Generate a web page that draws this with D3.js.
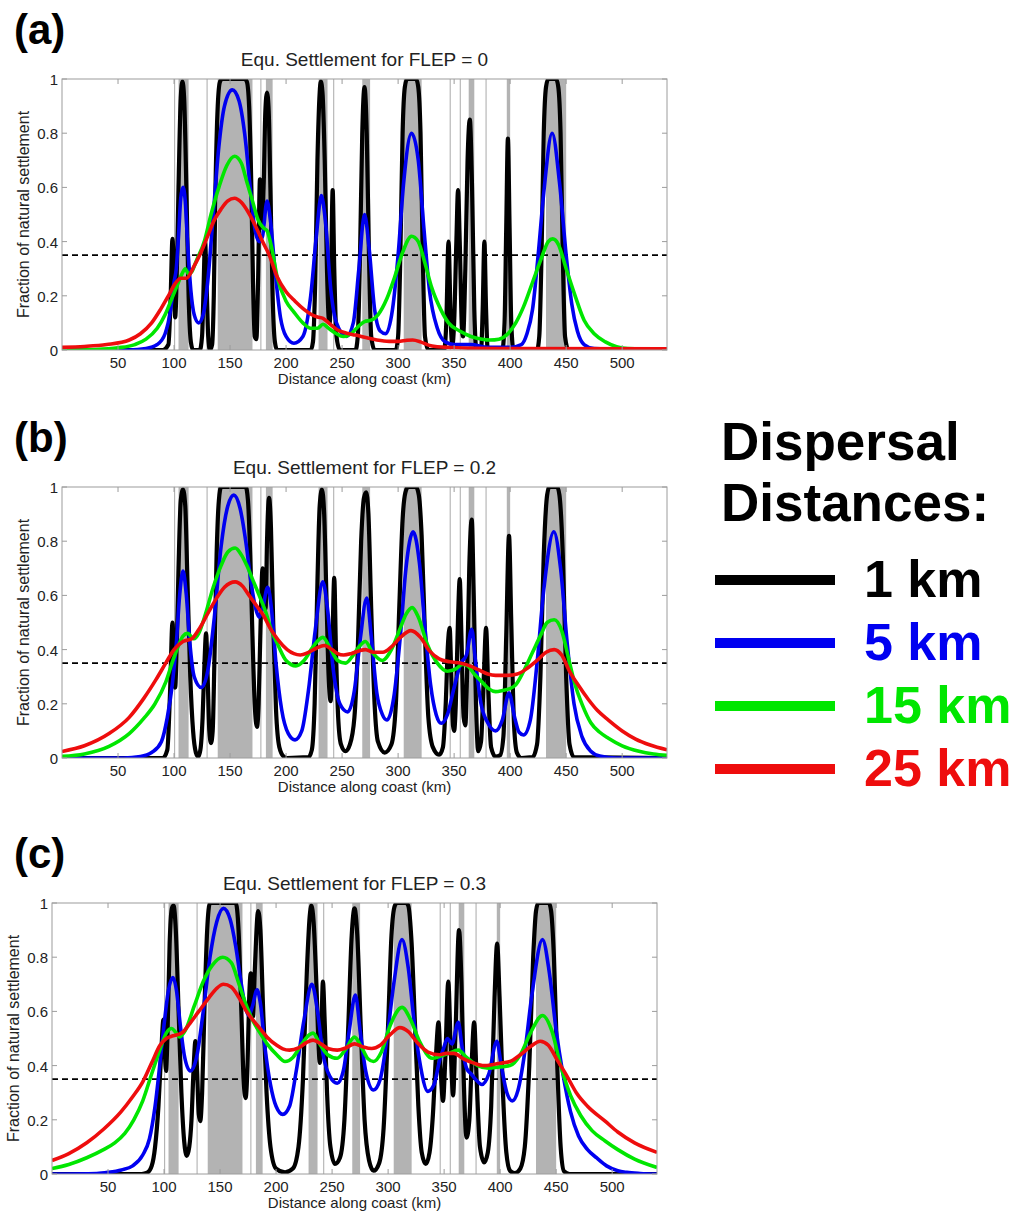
<!DOCTYPE html>
<html>
<head>
<meta charset="utf-8">
<script src="https://cdn.jsdelivr.net/npm/d3@7"></script>
<style>
  body { margin: 0; background: #fff; }
  svg { display: block; font-family: "Liberation Sans", Arial, Helvetica, sans-serif; }
  .box { fill: none; stroke: #9c9c9c; stroke-width: 1; }
  .tick-line { stroke: #9c9c9c; stroke-width: 1; }
  .tick-label { font-size: 15px; fill: #222; }
</style>
</head>
<body>
<svg id="chart" width="1018" height="1213"></svg>
<script>
// Reserves along the coast, [start km, end km]
var reserves = [[100,101],[104,113],[129,130],[139,170],[177,178],[182,188],[229,237],[242,243],
                [268,275],[305,321],[346,347],[355,356],[363,368],[378,379],[397,400],[432,450]];

var xTicks = [50,100,150,200,250,300,350,400,450,500];
var yTicks = [0,0.2,0.4,0.6,0.8,1];
var threshold = 0.35;

var distances = ["1 km","5 km","15 km","25 km"];
var colors = ["#000000","#0000f0","#00e600","#ee0d0d"];
var panelLetters = ["(a)","(b)","(c)"];
var panelTitles = ["Equ. Settlement for FLEP = 0","Equ. Settlement for FLEP = 0.2","Equ. Settlement for FLEP = 0.3"];

// Panel (a) FLEP = 0
var a1 = [[0,0],[90,0],[95,0.02],[97,0.2],[98.6,0.41],[100,0.25],[101,0.12],[102,0.2],[104,0.6],[106,0.93],[107.5,0.99],[109,0.93],[111,0.6],[113,0.2],[115,0.03],[117,0],[123,0],[125,0.05],[126.5,0.25],[127.6,0.40],[129,0.25],[130.5,0.05],[132,0],[134,0.02],[135.5,0.2],[137,0.6],[139,0.9],[141,0.99],[143,1],[163,1],[165,0.99],[167,0.9],[169,0.6],[170.5,0.25],[172,0.05],[173.5,0.04],[175,0.25],[176.7,0.63],[178,0.5],[179,0.45],[180,0.6],[181.5,0.88],[183,0.95],[184.5,0.88],[186,0.6],[188,0.2],[190,0.03],[192,0],[222,0],[224,0.03],[226,0.25],[228,0.7],[230,0.95],[231,0.99],[232.5,0.95],[234.5,0.7],[236.5,0.3],[238,0.12],[239,0.1],[240,0.25],[241.6,0.59],[243,0.3],[245,0.05],[248,0],[262,0],[264,0.05],[266,0.35],[268,0.8],[270,0.97],[272,0.8],[274,0.35],[276,0.05],[279,0],[298,0],[300,0.05],[302,0.35],[304,0.8],[306,0.97],[308,1],[316,1],[318,0.97],[320,0.8],[322,0.35],[324,0.05],[327,0],[341,0],[343,0.1],[345,0.40],[347,0.1],[348.5,0.02],[350,0.1],[352,0.4],[353.5,0.59],[355,0.4],[357,0.08],[358,0.05],[360,0.3],[362,0.7],[364,0.85],[366,0.6],[368,0.15],[370,0],[374,0],[375.5,0.15],[377,0.40],[378.5,0.15],[380,0],[393,0],[395,0.1],[396.5,0.45],[398,0.78],[399.5,0.45],[401,0.1],[403,0],[424,0],[426,0.05],[428,0.35],[430,0.8],[432,0.97],[434,1],[441,1],[443,0.97],[445,0.8],[447,0.35],[449,0.05],[452,0],[540,0]];
var a5 = [[0,0],[60,0],[75,0.005],[85,0.02],[92,0.06],[97,0.15],[100,0.25],[102,0.3],[104,0.42],[106,0.56],[108,0.60],[110,0.55],[112,0.4],[115,0.22],[118,0.13],[122,0.1],[126,0.13],[130,0.25],[135,0.5],[140,0.75],[145,0.9],[152,0.96],[158,0.92],[163,0.8],[168,0.6],[172,0.45],[176,0.4],[179,0.42],[183,0.55],[186,0.48],[190,0.3],[195,0.12],[200,0.05],[207,0.025],[215,0.05],[222,0.2],[227,0.42],[231.5,0.57],[235,0.48],[240,0.22],[245,0.1],[254,0.05],[260,0.1],[265,0.3],[270,0.5],[274,0.38],[279,0.15],[284,0.07],[289,0.06],[295,0.15],[300,0.35],[305,0.62],[312,0.80],[318,0.7],[323,0.45],[328,0.22],[335,0.08],[342,0.03],[350,0.02],[365,0.02],[380,0.01],[400,0.01],[410,0.02],[415,0.06],[420,0.15],[425,0.35],[430,0.58],[437.5,0.80],[444,0.62],[450,0.35],[455,0.17],[460,0.07],[466,0.02],[475,0.005],[540,0]];
var a15 = [[0,0],[30,0.002],[50,0.008],[65,0.02],[75,0.04],[85,0.08],[92,0.13],[98,0.19],[103,0.24],[107,0.28],[110,0.3],[113,0.28],[116,0.29],[120,0.33],[127,0.4],[133,0.5],[140,0.6],[147,0.68],[154,0.715],[160,0.69],[165,0.62],[170,0.55],[175,0.48],[180,0.45],[183,0.44],[187,0.38],[192,0.27],[200,0.18],[207,0.14],[215,0.1],[222,0.08],[228,0.08],[233,0.095],[238,0.08],[245,0.06],[251,0.05],[258,0.06],[264,0.085],[270,0.105],[276,0.11],[282,0.13],[290,0.19],[297,0.27],[304,0.36],[312,0.42],[318,0.4],[324,0.32],[330,0.23],[338,0.15],[345,0.1],[355,0.07],[365,0.05],[375,0.04],[382,0.037],[390,0.04],[398,0.06],[405,0.1],[412,0.16],[420,0.25],[428,0.34],[434,0.4],[438,0.41],[443,0.39],[450,0.3],[458,0.2],[466,0.11],[475,0.06],[485,0.03],[495,0.012],[505,0.005],[540,0.002]];
var a25 = [[0,0.01],[20,0.013],[40,0.02],[60,0.037],[70,0.06],[80,0.1],[88,0.15],[95,0.2],[101,0.245],[106,0.265],[111,0.265],[118,0.31],[124,0.36],[130,0.42],[136,0.48],[142,0.52],[148,0.55],[154,0.56],[160,0.545],[166,0.51],[173,0.455],[179,0.4],[185,0.35],[192,0.27],[200,0.215],[208,0.18],[216,0.15],[223,0.13],[228,0.122],[233,0.117],[238,0.1],[246,0.074],[254,0.062],[262,0.055],[272,0.045],[281,0.037],[292,0.032],[300,0.032],[308,0.036],[313,0.037],[320,0.03],[327,0.018],[335,0.012],[347,0.009],[370,0.006],[400,0.005],[540,0.004]];

// Panel (b) FLEP = 0.2
var b1 = [[0,0],[90,0],[94,0.03],[96.5,0.25],[98.6,0.50],[100,0.35],[101,0.26],[102,0.35],[104,0.7],[106,0.95],[108,0.99],[110,0.93],[112,0.65],[114.5,0.3],[117,0.1],[119.5,0.02],[121.5,0.005],[123.5,0.03],[125.5,0.15],[127,0.33],[128.6,0.46],[130,0.3],[131.5,0.1],[133,0.055],[134.5,0.1],[136,0.35],[138,0.75],[140,0.95],[142,1],[164,1],[166,0.95],[168,0.75],[170,0.45],[172,0.2],[174,0.115],[175.5,0.2],[177,0.45],[179,0.70],[180.5,0.58],[181.7,0.55],[183,0.8],[184.8,0.96],[186.5,0.85],[188.5,0.5],[191,0.18],[194,0.04],[198,0.005],[201,0],[220,0.003],[223,0.03],[225.5,0.2],[228,0.65],[230,0.93],[232,0.99],[234,0.9],[236,0.6],[238,0.3],[239.8,0.21],[241,0.35],[243,0.665],[244.5,0.4],[246.5,0.15],[249,0.05],[253,0.025],[257,0.05],[261,0.15],[264,0.4],[267,0.8],[269.5,0.96],[271.5,0.98],[273.5,0.9],[276,0.55],[279,0.2],[282,0.06],[288,0.02],[294,0.05],[298,0.2],[301,0.55],[304,0.88],[306.5,0.98],[309,1],[316,1],[318.5,0.97],[321,0.82],[324,0.45],[327,0.15],[331,0.04],[336.6,0.012],[340,0.04],[342.5,0.2],[344.5,0.42],[346,0.48],[347.5,0.3],[349,0.12],[350,0.1],[351.5,0.2],[353.5,0.52],[355,0.66],[356.5,0.45],[358.5,0.15],[360,0.12],[361.5,0.3],[363.5,0.7],[365.7,0.88],[367.5,0.6],[369.5,0.2],[371.5,0.025],[374,0.06],[376.5,0.3],[378.5,0.48],[380.5,0.25],[383,0.04],[387,0.005],[391,0.01],[394,0.08],[396.5,0.45],[399,0.82],[401,0.5],[403.5,0.12],[406,0.02],[410,0],[420,0.003],[424,0.05],[427,0.3],[430,0.75],[433,0.97],[435,1],[442,1],[444,0.97],[447,0.75],[450,0.3],[453,0.05],[457,0.003],[540,0]];
var b5 = [[0,0],[55,0],[70,0.005],[80,0.02],[88.7,0.06],[94,0.15],[98.4,0.27],[102,0.42],[105,0.6],[108,0.69],[111,0.6],[114,0.43],[118,0.3],[124.4,0.26],[130,0.32],[136,0.52],[142,0.78],[148,0.93],[153.4,0.97],[159,0.92],[164,0.8],[169,0.64],[173,0.55],[176,0.52],[179,0.55],[183.6,0.63],[187,0.55],[191,0.35],[196,0.18],[202,0.09],[208,0.067],[214,0.1],[220,0.25],[226,0.47],[232.8,0.65],[237,0.55],[242,0.33],[248,0.2],[255,0.17],[261,0.25],[266,0.43],[272,0.59],[276,0.45],[281,0.24],[286,0.16],[290,0.14],[296,0.22],[302,0.45],[307,0.7],[313.4,0.835],[319,0.72],[324,0.48],[329,0.27],[334,0.16],[338.6,0.128],[344,0.16],[350,0.26],[356,0.35],[361,0.38],[365.7,0.475],[369,0.36],[374,0.2],[380,0.13],[387,0.1],[393,0.14],[399,0.24],[404,0.15],[408,0.095],[412,0.085],[418,0.14],[424,0.35],[430,0.62],[439,0.835],[445,0.7],[451,0.42],[457,0.2],[464,0.08],[472,0.025],[480,0.007],[495,0],[540,0]];
var b15 = [[0,0.006],[20,0.015],[42,0.043],[60,0.09],[73,0.146],[83,0.2],[92.6,0.28],[99,0.36],[104,0.415],[108,0.45],[112,0.46],[117.8,0.44],[122,0.46],[128,0.53],[135,0.63],[142,0.71],[148,0.76],[154.6,0.775],[160,0.75],[165,0.71],[170,0.66],[176,0.6],[181.7,0.54],[187,0.47],[193,0.415],[200,0.36],[208.8,0.34],[216,0.36],[224,0.41],[232.8,0.445],[240,0.4],[246,0.36],[253,0.35],[260,0.38],[265,0.41],[270.8,0.43],[277,0.39],[286,0.36],[294,0.4],[302,0.48],[307,0.53],[312.6,0.555],[318,0.52],[326,0.42],[335,0.35],[344,0.32],[352,0.33],[357,0.345],[362,0.34],[368,0.31],[375,0.28],[381,0.255],[387,0.245],[394,0.25],[399,0.255],[405,0.27],[412,0.32],[420,0.39],[428,0.46],[433,0.5],[439.3,0.51],[446,0.47],[452,0.37],[458,0.27],[464.5,0.195],[472,0.13],[480,0.095],[487.7,0.073],[500,0.045],[515,0.025],[528,0.015],[540,0.01]];
var b25 = [[0,0.024],[20,0.045],[42,0.09],[60,0.15],[73,0.22],[84,0.29],[92.6,0.35],[100,0.4],[108,0.43],[115.8,0.44],[123,0.48],[131,0.54],[138,0.59],[145,0.63],[154.6,0.65],[161,0.635],[167,0.6],[174,0.56],[180,0.525],[185.6,0.48],[193,0.435],[201,0.40],[207,0.385],[212.7,0.38],[220,0.39],[227,0.405],[234,0.415],[241,0.4],[246,0.385],[251.4,0.38],[258,0.385],[265,0.395],[270.8,0.40],[278,0.39],[286.3,0.39],[294,0.41],[302,0.445],[311.5,0.47],[320,0.445],[328,0.395],[336.6,0.366],[346,0.355],[356,0.35],[364,0.34],[372,0.325],[380,0.31],[387,0.305],[397,0.305],[406.4,0.31],[415,0.33],[424,0.36],[432,0.39],[439.3,0.40],[446,0.38],[453,0.32],[460.6,0.27],[470,0.215],[478,0.175],[487.7,0.14],[500,0.1],[512,0.07],[525,0.048],[540,0.03]];

// Panel (c) FLEP = 0.3
var c1 = [[0,0],[80,0],[85,0.005],[89,0.03],[92,0.1],[95,0.25],[97.5,0.45],[99.5,0.57],[100.7,0.45],[101.8,0.38],[103,0.5],[105,0.85],[107,0.98],[108.5,0.99],[110.5,0.9],[113,0.6],[115.5,0.3],[118,0.12],[120.3,0.067],[122.5,0.1],[124.5,0.2],[126.5,0.4],[128,0.49],[129.5,0.38],[131,0.22],[132.3,0.195],[134,0.3],[136,0.6],[138.5,0.9],[141,1],[164,1],[166.5,0.9],[169,0.6],[171,0.35],[172.8,0.28],[174.5,0.4],[176,0.65],[177.4,0.74],[178.5,0.62],[179.4,0.58],[181,0.75],[184,0.97],[186,0.9],[188.5,0.6],[191.5,0.3],[195,0.1],[200,0.02],[208,0.006],[215,0.02],[220,0.1],[224,0.35],[227.5,0.75],[230,0.95],[231.5,0.99],[233.5,0.93],[236,0.7],[238,0.47],[239,0.41],[240.5,0.55],[241.8,0.71],[243.5,0.55],[245.5,0.3],[248.5,0.1],[252.6,0.037],[257,0.06],[261,0.2],[264.5,0.55],[267.5,0.88],[270,0.98],[272.5,0.88],[275.5,0.55],[279,0.2],[283,0.05],[287,0.012],[292,0.04],[296,0.17],[300,0.55],[303,0.88],[306,0.99],[308,1],[316,1],[318,0.99],[321,0.85],[324,0.55],[327,0.25],[330,0.08],[333.6,0.037],[337,0.08],[340,0.22],[342.5,0.42],[345,0.56],[347,0.38],[349,0.27],[351,0.42],[353.7,0.71],[356,0.45],[358,0.29],[360,0.5],[363.3,0.90],[365.5,0.7],[367.5,0.35],[370,0.134],[372.5,0.2],[374.5,0.4],[376.8,0.56],[379,0.35],[382,0.1],[385.7,0.043],[389,0.08],[392,0.25],[395,0.65],[397.3,0.85],[399.5,0.65],[402.5,0.3],[405.5,0.08],[408.8,0.012],[413,0.003],[418,0.02],[422,0.1],[426,0.4],[429.5,0.8],[432,0.97],[434,1],[443.5,1],[445.5,0.97],[448,0.8],[451,0.4],[454,0.1],[457,0.01],[462,0],[540,0]];
var c5 = [[0,0],[40,0.002],[50,0.006],[62,0.015],[72,0.03],[81,0.07],[87,0.13],[92,0.25],[96.4,0.41],[100,0.55],[104,0.68],[108,0.725],[111,0.68],[114.5,0.55],[118,0.44],[123.4,0.38],[129,0.43],[135,0.6],[141,0.8],[147,0.93],[153,0.98],[159,0.94],[164,0.84],[169,0.7],[173,0.61],[175.5,0.585],[179,0.62],[183,0.68],[186,0.63],[190,0.47],[195,0.33],[200,0.25],[206,0.22],[212,0.25],[218,0.38],[225,0.57],[232,0.70],[237,0.6],[242,0.44],[248,0.36],[254.6,0.335],[260,0.38],[265,0.52],[270.8,0.66],[275,0.53],[280,0.38],[287,0.31],[293,0.35],[299,0.5],[305,0.7],[312.4,0.865],[318,0.76],[323,0.57],[328,0.42],[335.6,0.305],[341,0.33],[346,0.42],[350,0.47],[353,0.5],[357,0.48],[362.6,0.56],[366,0.47],[370,0.39],[374,0.37],[378,0.35],[383.8,0.33],[390,0.37],[397,0.49],[401,0.4],[406,0.3],[410.8,0.27],[416,0.31],[422,0.45],[428,0.65],[437.8,0.865],[444,0.74],[450,0.53],[456,0.37],[462.8,0.23],[470,0.14],[478,0.09],[486,0.06],[495,0.03],[505,0.012],[513,0.006],[525,0.002],[540,0]];
var c15 = [[0,0.02],[15,0.035],[31,0.06],[46,0.09],[56,0.115],[65,0.15],[73,0.2],[81,0.27],[89,0.37],[96.4,0.46],[102,0.52],[106.8,0.537],[110,0.525],[113.8,0.506],[119,0.53],[127,0.62],[135,0.71],[143,0.77],[152.4,0.80],[160,0.78],[167,0.7],[173.6,0.62],[180,0.56],[185,0.525],[192,0.48],[200.6,0.44],[208,0.415],[215,0.43],[223,0.48],[230,0.515],[233,0.52],[239,0.48],[246,0.44],[254.6,0.427],[262,0.46],[270,0.505],[276,0.47],[282,0.425],[287,0.415],[294,0.45],[302,0.55],[312.4,0.615],[320,0.57],[328,0.49],[339.4,0.427],[347,0.435],[354,0.445],[362.6,0.457],[370,0.43],[380,0.4],[389.6,0.39],[399,0.395],[408.8,0.40],[418,0.44],[427,0.52],[437.8,0.585],[446,0.53],[454,0.4],[462.8,0.29],[472,0.215],[482,0.16],[493.7,0.122],[505,0.09],[520,0.055],[540,0.024]];
var c25 = [[0,0.05],[15,0.075],[31,0.115],[46,0.165],[61.7,0.23],[72,0.285],[81,0.34],[89,0.41],[96.4,0.475],[102,0.5],[108,0.51],[115.7,0.52],[123,0.555],[131,0.6],[140,0.65],[147,0.685],[153,0.70],[160,0.69],[167,0.65],[173.6,0.60],[180,0.565],[185,0.54],[192,0.505],[200.6,0.475],[206,0.462],[212,0.457],[220,0.465],[227,0.485],[233,0.494],[240,0.48],[247,0.462],[254.6,0.457],[262,0.465],[270,0.48],[277,0.47],[285.4,0.463],[293,0.475],[302,0.515],[310.5,0.54],[318,0.525],[326,0.485],[335.6,0.45],[346,0.44],[352,0.445],[358.7,0.445],[366.4,0.427],[376,0.41],[385.7,0.40],[395,0.405],[402,0.41],[408.8,0.415],[418,0.44],[427,0.47],[435.8,0.49],[443,0.475],[451,0.42],[459,0.366],[468,0.3],[478,0.25],[493.7,0.195],[505,0.155],[520,0.115],[540,0.08]];

var panelSeries = [[a1,a5,a15,a25],[b1,b5,b15,b25],[c1,c5,c15,c25]];

var svg = d3.select("#chart");
var W = 605, H = 271;
var origins = [[62,79],[62,487],[52,903]];

var x = d3.scaleLinear().domain([0,540]).range([0,W]);
var y = d3.scaleLinear().domain([0,1]).range([H,0]);

var line = d3.line()
    .x(function(d) { return x(d[0]) })
    .y(function(d) { return y(d[1]) })
    .curve(d3.curveMonotoneX);

panelSeries.forEach(function(series, i) {
    var g = svg.append("g")
        .attr("transform", "translate(" + origins[i][0] + "," + origins[i][1] + ")");

    g.append("clipPath").attr("id", "clip" + i)
        .append("rect").attr("width", W).attr("height", H);

    var plot = g.append("g").attr("clip-path", "url(#clip" + i + ")");

    // Reserve bands
    plot.selectAll("rect.reserve")
        .data(reserves)
        .enter()
        .append("rect")
            .attr("class", "reserve")
            .attr("x", function(d) { return x(d[0]) })
            .attr("width", function(d) { return x(d[1]) - x(d[0]) })
            .attr("y", 0)
            .attr("height", H)
            .style("fill", "#b3b3b3");

    // Threshold line
    plot.append("line")
        .attr("x1", 0).attr("x2", W)
        .attr("y1", y(threshold)).attr("y2", y(threshold))
        .style("stroke", "#000")
        .style("stroke-width", 1.6)
        .style("stroke-dasharray", "6,4");

    plot.selectAll("path.series")
        .data(series)
        .enter()
        .append("path")
            .attr("class", "series")
            .attr("d", line)
            .style("fill", "none")
            .style("stroke", function(d, j) { return colors[j] })
            .style("stroke-width", function(d, j) { return j == 0 ? 4.2 : 3.6 })
            .style("stroke-linejoin", "round");

    // Box and inward ticks, MATLAB style
    g.append("rect").attr("class", "box").attr("width", W).attr("height", H);

    xTicks.forEach(function(t) {
        g.append("line").attr("class", "tick-line")
            .attr("x1", x(t)).attr("x2", x(t)).attr("y1", H).attr("y2", H - 5);
        g.append("line").attr("class", "tick-line")
            .attr("x1", x(t)).attr("x2", x(t)).attr("y1", 0).attr("y2", 5);
        g.append("text").attr("class", "tick-label")
            .attr("x", x(t)).attr("y", H + 18)
            .attr("text-anchor", "middle")
            .text(t);
    });

    yTicks.forEach(function(t) {
        g.append("line").attr("class", "tick-line")
            .attr("x1", 0).attr("x2", 5).attr("y1", y(t)).attr("y2", y(t));
        g.append("line").attr("class", "tick-line")
            .attr("x1", W).attr("x2", W - 5).attr("y1", y(t)).attr("y2", y(t));
        g.append("text").attr("class", "tick-label")
            .attr("x", -4).attr("y", y(t) + 6)
            .attr("text-anchor", "end")
            .text(d3.format("~g")(t));
    });

    g.append("text")
        .attr("x", W / 2).attr("y", H + 34)
        .attr("text-anchor", "middle")
        .style("font-size", "15px")
        .style("fill", "#222")
        .text("Distance along coast (km)");

    g.append("text")
        .attr("transform", "translate(-33," + (H / 2) + ") rotate(-90)")
        .attr("text-anchor", "middle")
        .style("font-size", "16px")
        .style("fill", "#222")
        .text("Fraction of natural settlement");

    g.append("text")
        .attr("x", W / 2).attr("y", -13)
        .attr("text-anchor", "middle")
        .style("font-size", "19px")
        .style("fill", "#222")
        .text(panelTitles[i]);

    g.append("text")
        .attr("x", 14 - origins[i][0]).attr("y", -35)
        .style("font-size", "42px")
        .style("font-weight", "bold")
        .text(panelLetters[i]);
});

// Legend
var legend = svg.append("g");

legend.append("text")
    .attr("x", 721).attr("y", 460)
    .style("font-size", "53px").style("font-weight", "bold")
    .text("Dispersal");
legend.append("text")
    .attr("x", 721).attr("y", 521)
    .style("font-size", "53px").style("font-weight", "bold")
    .text("Distances:");

var legendY = d3.scalePoint().domain(distances).range([580, 769]);

distances.forEach(function(d, i) {
    legend.append("line")
        .attr("x1", 715).attr("x2", 835)
        .attr("y1", legendY(d)).attr("y2", legendY(d))
        .style("stroke", colors[i])
        .style("stroke-width", 10);
    legend.append("text")
        .attr("x", 864).attr("y", legendY(d) + 17)
        .style("font-size", "52px").style("font-weight", "bold")
        .style("fill", colors[i])
        .text(d);
});
</script>
</body>
</html>
